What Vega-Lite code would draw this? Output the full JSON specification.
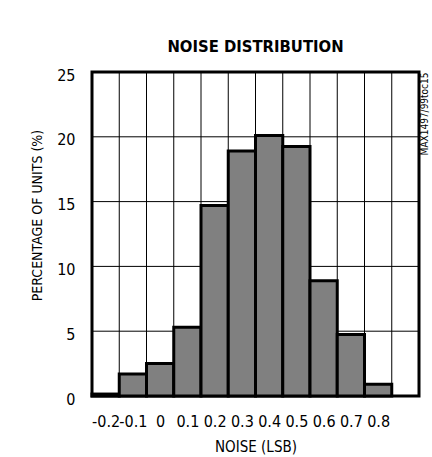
{
  "$schema": "https://vega.github.io/schema/vega-lite/v6.json",
  "autosize": "none",
  "width": 327,
  "height": 324,
  "padding": {"left": 92, "top": 72, "right": 13, "bottom": 61},
  "background": "white",
  "title": {
    "text": "NOISE DISTRIBUTION",
    "font": "DejaVu Sans Condensed",
    "fontWeight": "bold",
    "fontSize": 16.5,
    "color": "black",
    "anchor": "middle",
    "frame": "group",
    "baseline": "alphabetic",
    "offset": -1
  },
  "datasets": {
    "hist": [
      {"lo": -0.25, "hi": -0.15, "percent": 0.15},
      {"lo": -0.15, "hi": -0.05, "percent": 1.7},
      {"lo": -0.05, "hi": 0.05, "percent": 2.5},
      {"lo": 0.05, "hi": 0.15, "percent": 5.3},
      {"lo": 0.15, "hi": 0.25, "percent": 14.7},
      {"lo": 0.25, "hi": 0.35, "percent": 18.9},
      {"lo": 0.35, "hi": 0.45, "percent": 20.1},
      {"lo": 0.45, "hi": 0.55, "percent": 19.25},
      {"lo": 0.55, "hi": 0.65, "percent": 8.9},
      {"lo": 0.65, "hi": 0.75, "percent": 4.75},
      {"lo": 0.75, "hi": 0.85, "percent": 0.9}
    ],
    "vgrid": [
      {"edge": -0.15}, {"edge": -0.05}, {"edge": 0.05}, {"edge": 0.15},
      {"edge": 0.25}, {"edge": 0.35}, {"edge": 0.45}, {"edge": 0.55},
      {"edge": 0.65}, {"edge": 0.75}, {"edge": 0.85}
    ],
    "hgrid": [
      {"level": 5}, {"level": 10}, {"level": 15}, {"level": 20}
    ]
  },
  "layer": [
    {
      "data": {"name": "vgrid"},
      "mark": {"type": "rule", "color": "black", "strokeWidth": 1},
      "encoding": {
        "x": {
          "field": "edge",
          "type": "quantitative",
          "scale": {"domain": [-0.25, 0.95], "nice": false, "zero": false},
          "axis": {
            "title": "NOISE (LSB)",
            "values": [-0.2, -0.1, 0, 0.1, 0.2, 0.3, 0.4, 0.5, 0.6, 0.7, 0.8],
            "labelExpr": "'' + datum.value",
            "grid": false,
            "ticks": false,
            "domain": false,
            "labelOverlap": false,
            "labelFlush": false,
            "labelBound": false,
            "labelPadding": 17,
            "labelBaseline": "top",
            "titleY": 50,
            "titleBaseline": "middle"
          }
        }
      }
    },
    {
      "data": {"name": "hgrid"},
      "mark": {"type": "rule", "color": "black", "strokeWidth": 1},
      "encoding": {
        "y": {
          "field": "level",
          "type": "quantitative",
          "scale": {"domain": [0, 25], "nice": false},
          "axis": {
            "orient": "right",
            "title": "MAX1497/99toc15",
            "titleFont": "DejaVu Sans Condensed",
            "titleFontSize": 10,
            "titleFontWeight": "normal",
            "titleAngle": -90,
            "titleAlign": "right",
            "titleBaseline": "alphabetic",
            "titleX": 8.5,
            "titleY": 0,
            "labels": false,
            "ticks": false,
            "domain": false,
            "grid": false
          }
        }
      }
    },
    {
      "data": {"name": "hist"},
      "mark": {"type": "bar", "fill": "#808080", "stroke": "black", "strokeWidth": 3},
      "encoding": {
        "x": {
          "field": "lo",
          "type": "quantitative",
          "scale": {"domain": [-0.25, 0.95], "nice": false, "zero": false},
          "axis": {
            "title": "NOISE (LSB)",
            "values": [-0.2, -0.1, 0, 0.1, 0.2, 0.3, 0.4, 0.5, 0.6, 0.7, 0.8],
            "labelExpr": "'' + datum.value",
            "grid": false,
            "ticks": false,
            "domain": false,
            "labelOverlap": false,
            "labelFlush": false,
            "labelBound": false,
            "labelPadding": 17,
            "labelBaseline": "top",
            "titleY": 50,
            "titleBaseline": "middle"
          }
        },
        "x2": {"field": "hi"},
        "y": {
          "field": "percent",
          "type": "quantitative",
          "scale": {"domain": [0, 25], "nice": false},
          "axis": {
            "orient": "left",
            "title": "PERCENTAGE OF UNITS (%)",
            "titleFontSize": 14,
            "values": [0, 5, 10, 15, 20, 25],
            "grid": false,
            "ticks": false,
            "domain": false,
            "labelFlush": false,
            "labelPadding": 17,
            "labelOffset": 3,
            "titleAngle": -90,
            "titleX": -55,
            "titleY": 143,
            "titleAlign": "center",
            "titleBaseline": "middle"
          }
        },
        "y2": {"datum": 0}
      }
    }
  ],
  "resolve": {"scale": {"y": "shared", "x": "shared"}, "axis": {"y": "independent"}},
  "config": {
    "view": {"stroke": "black", "strokeWidth": 3, "fill": "white"},
    "axis": {
      "labelFont": "DejaVu Sans Condensed",
      "labelFontSize": 16,
      "labelColor": "black",
      "titleFont": "DejaVu Sans Condensed",
      "titleFontSize": 15,
      "titleFontWeight": "normal",
      "titleColor": "black"
    }
  }
}
